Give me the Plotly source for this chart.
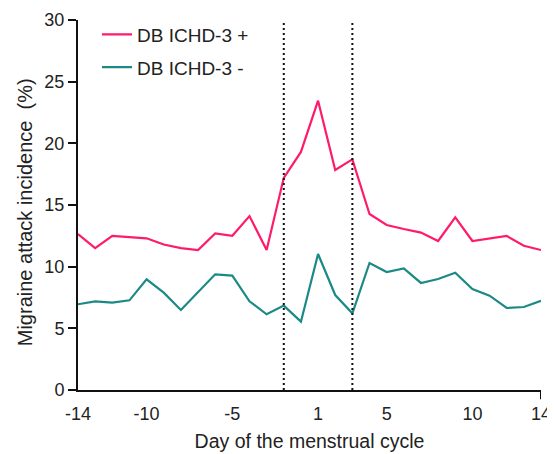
import plotly.graph_objects as go

days = [-14, -13, -12, -11, -10, -9, -8, -7, -6, -5, -4, -3, -2, -1,
        1, 2, 3, 4, 5, 6, 7, 8, 9, 10, 11, 12, 13, 14]
db_pos = [12.65, 11.5, 12.5, 12.43, 12.3, 11.8, 11.5, 11.35, 12.7, 12.5, 14.1, 11.35, 17.2, 19.3,
          23.46, 17.84, 18.7, 14.27, 13.38, 13.05, 12.76, 12.08, 14.0, 12.08, 12.3, 12.49, 11.7, 11.35]
db_neg = [6.95, 7.19, 7.08, 7.27, 8.97, 7.89, 6.49, 7.92, 9.38, 9.27, 7.19, 6.14, 6.84, 5.54,
          11.03, 7.7, 6.22, 10.3, 9.57, 9.86, 8.68, 9.0, 9.51, 8.19, 7.65, 6.65, 6.73, 7.24]
tick_days = [-14, -10, -5, 1, 5, 10, 14]
marker_days = [-2, 3]
series_names = ["DB ICHD-3 +", "DB ICHD-3 -"]
colors = ["#ff1a6c", "#1b8a86"]

xpos = list(range(len(days)))
FONT = "Liberation Sans, Arial, sans-serif"
TXT = "#222222"

fig = go.Figure()
for name, vals, col, grp in [(series_names[0], db_pos, colors[0], "a"),
                             (series_names[1], db_neg, colors[1], "b")]:
    fig.add_trace(go.Scatter(x=xpos, y=vals, mode="lines", name=name,
                             legendgroup=grp,
                             line=dict(color=col, width=2.2)))

for d in marker_days:
    fig.add_vline(x=days.index(d), line=dict(color="#111111", width=2, dash="2px,3px"))

# end tick on the x axis at day 14
fig.add_shape(type="line", xref="x", yref="paper", x0=len(days) - 1, x1=len(days) - 1,
              y0=0, y1=-0.025, line=dict(color="#111111", width=2))

# y axis title
fig.add_annotation(text="Migraine attack incidence&nbsp;&nbsp;(%)", textangle=-90,
                   xref="paper", yref="paper", x=-0.114, y=0.481,
                   xanchor="center", yanchor="middle", showarrow=False,
                   font=dict(family=FONT, size=20, color=TXT))

# page body has an 8px margin, so the figure is sized/offset to compensate
fig.update_layout(
    width=547, height=446,
    margin=dict(l=70, r=14, t=12, b=64, autoexpand=False),
    plot_bgcolor="white", paper_bgcolor="white",
    font=dict(family=FONT, size=18, color=TXT),
    showlegend=True,
    legend=dict(x=0.041, y=1.012, xanchor="left", yanchor="top",
                bgcolor="rgba(0,0,0,0)", tracegroupgap=5,
                font=dict(family=FONT, size=19, color=TXT)),
    xaxis=dict(range=[0, len(days) - 1], automargin=False,
               tickvals=[days.index(d) for d in tick_days],
               ticktext=[str(d) for d in tick_days],
               showgrid=False, zeroline=False, showline=True,
               linecolor="#111111", linewidth=2, ticks="outside",
               ticklen=6, tickcolor="rgba(0,0,0,0)",
               tickfont=dict(family=FONT, size=18, color=TXT),
               title=dict(text="Day of the menstrual cycle",
                          font=dict(family=FONT, size=19.5, color=TXT), standoff=12)),
    yaxis=dict(range=[0, 30], tickvals=[0, 5, 10, 15, 20, 25, 30], automargin=False,
               showgrid=False, zeroline=False, showline=True,
               linecolor="#111111", linewidth=2, ticks="outside",
               ticklen=8, tickwidth=2, tickcolor="#111111",
               tickfont=dict(family=FONT, size=18, color=TXT)),
)

fig.write_html("out.html")
